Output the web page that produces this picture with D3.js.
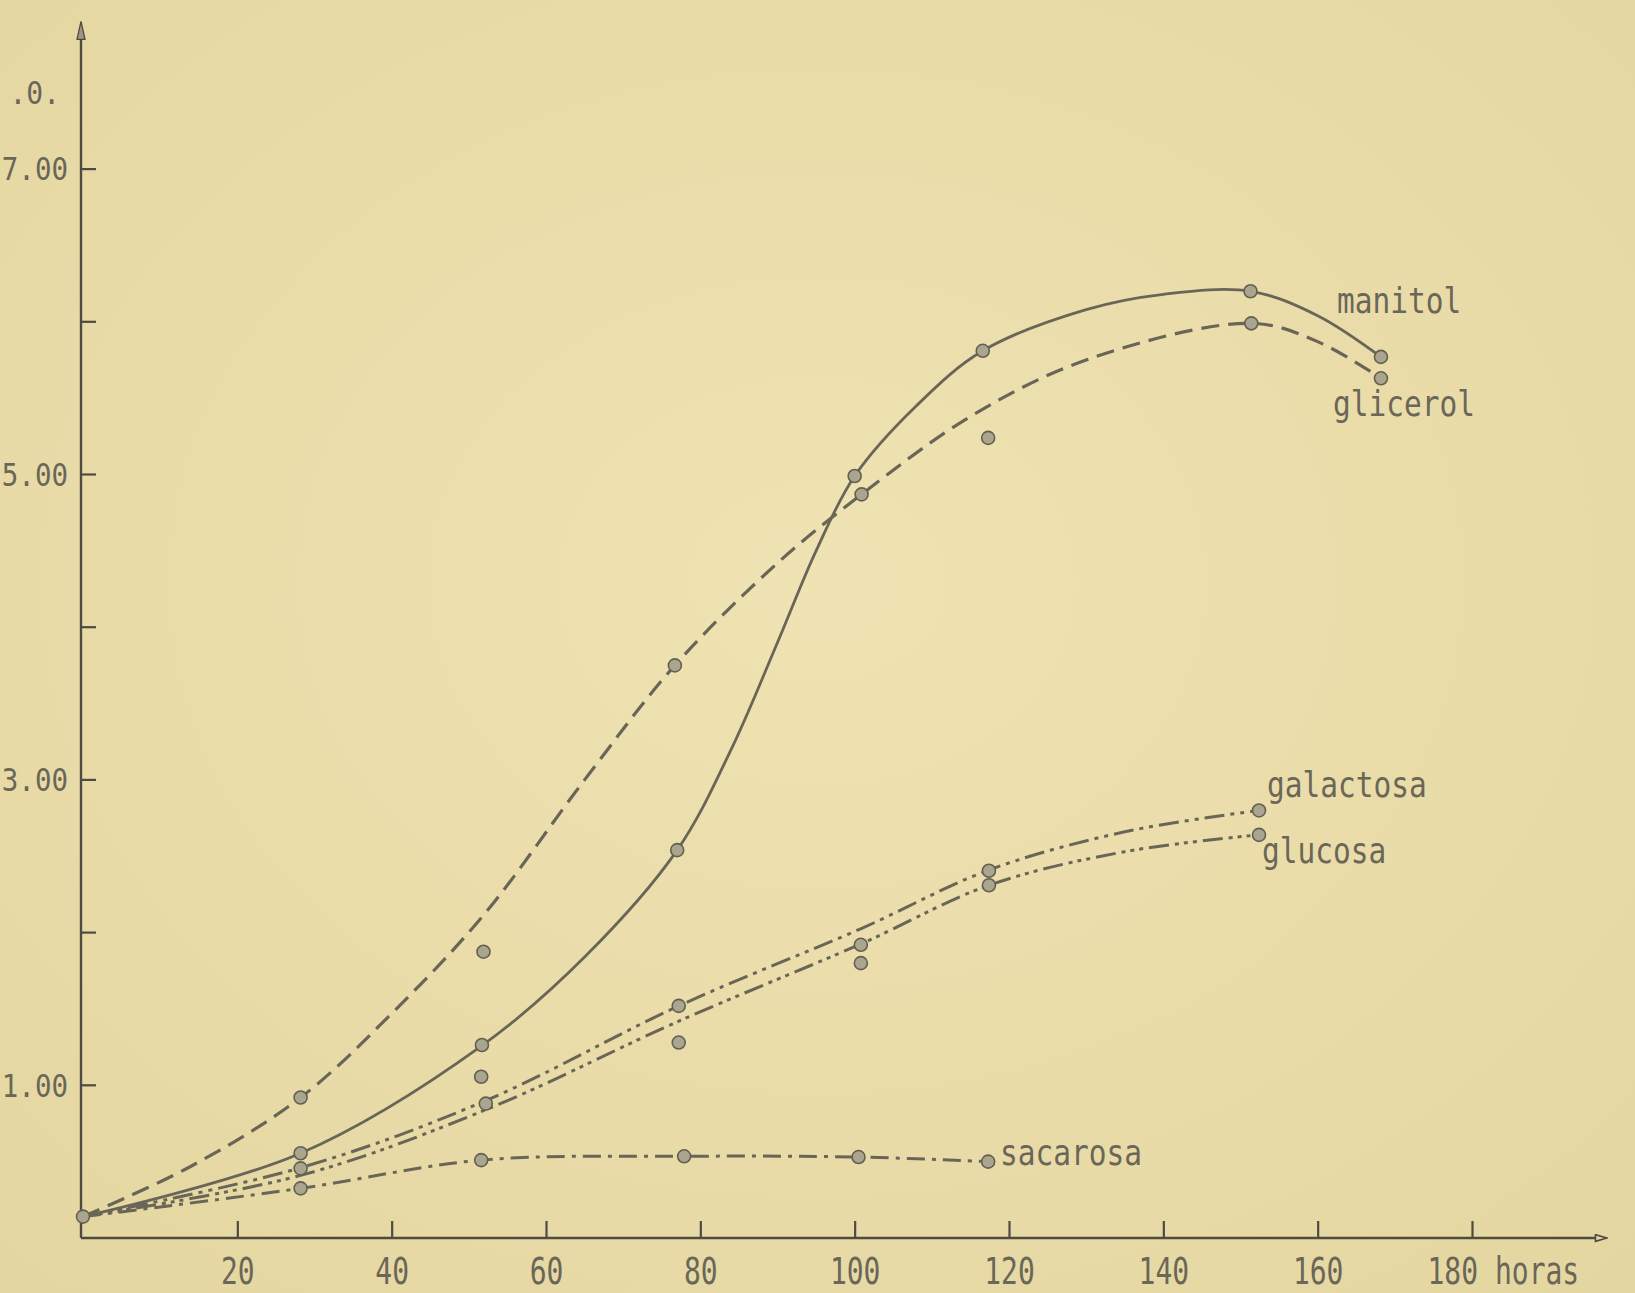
<!DOCTYPE html>
<html>
<head>
<meta charset="utf-8">
<script src="https://cdn.jsdelivr.net/npm/d3@7"></script>
<style>
html, body { margin: 0; padding: 0; background: #ebdfae; overflow: hidden; }
svg { display: block; }
</style>
</head>
<body>
<svg id="chart" width="1635" height="1293"></svg>
<script>
// values (hours vs. D.O.)
const xTicks = [20, 40, 60, 80, 100, 120, 140, 160, 180];
const yTicks = [1, 2, 3, 4, 5, 6, 7];
const yTickLabels = { 1: '1.00', 3: '3.00', 5: '5.00', 7: '7.00' };

// smooth hand-drawn curves: [hours, value]
const manitolCurve = [[0, 0.14], [28.2, 0.555], [51.7, 1.26], [65, 1.84], [77, 2.54], [84, 3.2], [90, 3.9], [95, 4.5], [100, 4.99], [108, 5.45], [116.6, 5.81], [130, 6.08], [140, 6.18], [151.3, 6.2], [160, 6.04], [168.2, 5.77]];
const glicerolCurve = [[0, 0.14], [14, 0.47], [28.2, 0.92], [40, 1.47], [52, 2.12], [65, 3.0], [76.7, 3.75], [90, 4.42], [100.9, 4.87], [115, 5.38], [130, 5.75], [151.4, 5.99], [160, 5.87], [168.2, 5.63]];
const galactosaCurve = [[0, 0.14], [28.2, 0.46], [52.2, 0.9], [77.2, 1.52], [101, 2.03], [117.4, 2.41], [135, 2.66], [152.4, 2.8]];
const glucosaCurve = [[0, 0.14], [28.2, 0.41], [52.2, 0.84], [77.2, 1.42], [101, 1.93], [117.4, 2.31], [135, 2.53], [152.4, 2.64]];
const sacarosaCurve = [[0, 0.14], [28.2, 0.325], [51.6, 0.51], [77.9, 0.535], [100.5, 0.53], [117.3, 0.5]];

// measured points
const manitolPts = [[0, 0.14], [28.2, 0.555], [51.7, 1.264], [77, 2.54], [100, 4.99], [116.6, 5.81], [151.3, 6.2], [168.2, 5.77]];
const glicerolPts = [[28.2, 0.92], [51.9, 1.875], [76.7, 3.75], [100.9, 4.87], [117.3, 5.24], [151.4, 5.99], [168.2, 5.63]];
const galactosaPts = [[28.2, 0.456], [52.2, 0.88], [77.2, 1.52], [100.8, 1.92], [117.4, 2.405], [152.4, 2.8]];
const glucosaPts = [[51.6, 1.056], [77.2, 1.28], [100.8, 1.8], [117.4, 2.31], [152.4, 2.64]];
const sacarosaPts = [[28.2, 0.325], [51.6, 0.51], [77.9, 0.535], [100.5, 0.53], [117.3, 0.5]];

const seriesNames = ['manitol', 'glicerol', 'galactosa', 'glucosa', 'sacarosa'];

const svg = d3.select('#chart');
const width = +svg.attr('width');
const height = +svg.attr('height');

const x = d3.scaleLinear().domain([0, 180]).range([83, 1472]);
const y = d3.scaleLinear().domain([0, 8]).range([1238, 16.4]);

const ink = '#4f4b40';
const lineInk = '#6a6657';
const textInk = '#6a6658';
const mono = '"DejaVu Sans Mono", monospace';

// paper
const defs = svg.append('defs');
const grad = defs.append('radialGradient').attr('id', 'paper')
  .attr('cx', '50%').attr('cy', '45%').attr('r', '75%');
grad.append('stop').attr('offset', '0%').attr('stop-color', '#efe3b3');
grad.append('stop').attr('offset', '100%').attr('stop-color', '#e4d6a0');
svg.append('rect').attr('width', width).attr('height', height).attr('fill', 'url(#paper)');

defs.append('marker').attr('id', 'arrowX')
  .attr('viewBox', '0 0 12 8').attr('refX', 1).attr('refY', 4)
  .attr('markerWidth', 14).attr('markerHeight', 9).attr('markerUnits', 'userSpaceOnUse')
  .attr('orient', 'auto')
  .append('path').attr('d', 'M1,1 L11,4 L1,7 Z')
  .attr('fill', 'none').attr('stroke', ink).attr('stroke-width', 1.4);
defs.append('marker').attr('id', 'arrowY')
  .attr('viewBox', '0 0 20 10').attr('refX', 1).attr('refY', 5)
  .attr('markerWidth', 20).attr('markerHeight', 10).attr('markerUnits', 'userSpaceOnUse')
  .attr('orient', 'auto')
  .append('path').attr('d', 'M1,1 L19,5 L1,9 Z')
  .attr('fill', '#9c9684').attr('stroke', ink).attr('stroke-width', 1.3);

// axis lines with arrows
svg.append('line')
  .attr('x1', x(0) - 2).attr('y1', y(0)).attr('x2', x(196)).attr('y2', y(0))
  .attr('stroke', ink).attr('stroke-width', 2.4).attr('marker-end', 'url(#arrowX)');
svg.append('line')
  .attr('x1', x(0) - 2).attr('y1', y(0)).attr('x2', x(0) - 2).attr('y2', y(7.85))
  .attr('stroke', ink).attr('stroke-width', 2.4).attr('marker-end', 'url(#arrowY)');

// x axis ticks & labels
const xScaleY = 1.3;
const xAxis = svg.append('g')
  .attr('transform', `translate(0,${y(0)})`)
  .call(d3.axisBottom(x).tickValues(xTicks).tickSizeInner(-17).tickSizeOuter(0));
xAxis.select('.domain').remove();
xAxis.selectAll('line').attr('stroke', ink).attr('stroke-width', 2.2);
xAxis.selectAll('text')
  .attr('y', 46 / xScaleY).attr('dy', 0)
  .attr('transform', `scale(1,${xScaleY})`)
  .attr('fill', textInk)
  .style('font-family', mono)
  .style('font-size', '28px');
xAxis.selectAll('text').filter(d => d === 180)
  .text('180 horas')
  .attr('text-anchor', 'start')
  .attr('x', -45);

// y axis ticks & labels
const yScaleY = 1.15;
const yAxis = svg.append('g')
  .attr('transform', `translate(${x(0) - 2},0)`)
  .call(d3.axisLeft(y).tickValues(yTicks).tickSizeInner(-15).tickSizeOuter(0)
    .tickFormat(d => yTickLabels[d] || ''));
yAxis.select('.domain').remove();
yAxis.selectAll('line').attr('stroke', ink).attr('stroke-width', 2.2);
yAxis.selectAll('text')
  .attr('x', -13).attr('dy', '0.36em')
  .attr('transform', `scale(1,${yScaleY})`)
  .attr('y', 0)
  .attr('fill', textInk)
  .style('font-family', mono)
  .style('font-size', '27.5px');
yAxis.selectAll('.tick')
  .attr('transform', d => `translate(0,${y(d)})`);

// y axis title, cut off by the page edge
svg.append('text')
  .attr('transform', `translate(60,${y(7.5)}) scale(1,${yScaleY})`)
  .attr('text-anchor', 'end').attr('dy', '0.36em')
  .attr('fill', textInk)
  .style('font-family', mono)
  .style('font-size', '28px')
  .text('.0.');

// curves
const line = d3.line()
  .x(d => x(d[0]))
  .y(d => y(d[1]))
  .curve(d3.curveCatmullRom.alpha(0.5));

const curves = [
  { name: 'manitol', data: manitolCurve, dash: null, w: 2.8 },
  { name: 'glicerol', data: glicerolCurve, dash: '18,9', w: 3.2 },
  { name: 'galactosa', data: galactosaCurve, dash: '20,6,4,6,4,6', w: 3 },
  { name: 'glucosa', data: glucosaCurve, dash: '20,6,4,5,4,5,4,6', w: 3 },
  { name: 'sacarosa', data: sacarosaCurve, dash: '18,7,4,7', w: 3 },
];

svg.append('g').attr('class', 'curves')
  .selectAll('path')
  .data(curves)
  .enter()
  .append('path')
  .attr('d', c => line(c.data))
  .attr('fill', 'none')
  .attr('stroke', lineInk)
  .attr('stroke-width', c => c.w)
  .attr('stroke-dasharray', c => c.dash);

// points
const allPts = [].concat(manitolPts, glicerolPts, galactosaPts, glucosaPts, sacarosaPts);
svg.append('g').attr('class', 'points')
  .selectAll('circle')
  .data(allPts)
  .enter()
  .append('circle')
  .attr('cx', d => x(d[0]))
  .attr('cy', d => y(d[1]))
  .attr('r', 6.5)
  .attr('fill', '#aaa58e')
  .attr('stroke', '#636051')
  .attr('stroke-width', 1.6);

// series labels
const labelPos = {
  manitol: [1337, 313],
  glicerol: [1333, 416],
  galactosa: [1267, 797],
  glucosa: [1262, 863],
  sacarosa: [1000, 1165],
};
const lblScale = 1.18;
svg.append('g').attr('class', 'labels')
  .selectAll('text')
  .data(seriesNames)
  .enter()
  .append('text')
  .attr('transform', n => `translate(${labelPos[n][0]},${labelPos[n][1]}) scale(1,${lblScale})`)
  .attr('fill', textInk)
  .style('font-family', mono)
  .style('font-size', '29.5px')
  .text(n => n);
</script>
</body>
</html>
